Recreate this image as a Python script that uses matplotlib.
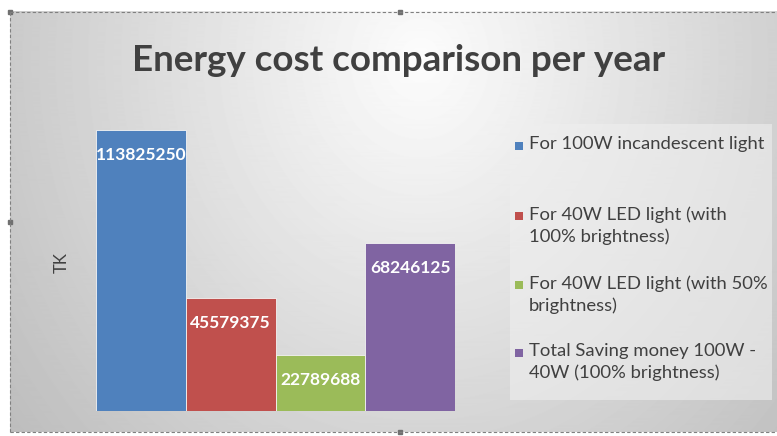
import numpy as np
import matplotlib.pyplot as plt
from matplotlib.patches import Rectangle

# Values
series = ['For 100W incandescent light',
          'For 40W LED light (with\n100% brightness)',
          'For 40W LED light (with 50%\nbrightness)',
          'Total Saving money 100W -\n40W (100% brightness)']
values = [113825250, 45579375, 22789688, 68246125]
colors = ['#4f81bd', '#c0504d', '#9bbb59', '#8064a2']

W, H = 777, 436
fig = plt.figure(figsize=(W / 100, H / 100), dpi=100)
plt.rcParams['font.family'] = ['Lato', 'DejaVu Sans']

# grey radial background inside the dashed chart frame
bg = fig.add_axes([0, 0, 1, 1], zorder=-2)
yy, xx = np.mgrid[0:H, 0:W]
r = np.sqrt(((xx - 420) / 420) ** 2 + ((yy - 60) / 480) ** 2)
shade = np.clip(0.99 - 0.2 * r, 0.7, 1)
shade[:12, :] = 1
shade[:, :10] = 1
shade[432:, :] = 1
bg.imshow(shade, cmap='gray', vmin=0, vmax=1, extent=[0, W, H, 0], aspect='auto')
bg.plot([10, W], [12, 12], ls=(0, (3, 2)), color='#808080', lw=0.8)
bg.plot([10, W], [432, 432], ls=(0, (3, 2)), color='#808080', lw=0.8)
bg.plot([10, 10], [12, 432], ls=(0, (3, 2)), color='#808080', lw=0.8)
for hx, hy in [(400, 12), (10, 222), (400, 432), (10, 12)]:
    bg.add_patch(Rectangle((hx - 2, hy - 2), 4, 4, color='#707070'))
# legend panel
bg.add_patch(Rectangle((510, 124), 262, 276, color='#efefef', alpha=0.6, lw=0))
bg.set_xlim(0, W)
bg.set_ylim(H, 0)
bg.axis('off')

# bars
ax = fig.add_axes([96 / W, (H - 411) / H, 359 / W, 291 / H])
ax.patch.set_alpha(0)
x = np.arange(len(values))
bars = ax.bar(x, values, width=1.0, color=colors, edgecolor='#f4f4f4', linewidth=0.6)
ax.set_xlim(-0.5, len(values) - 0.5)
ax.set_ylim(0, max(values) * 291 / 281)
for b, v in zip(bars, values):
    ax.annotate(str(v), (b.get_x() + b.get_width() / 2, v), xytext=(0, -25),
                textcoords='offset pixels', ha='center', va='center',
                color='white', fontsize=12.5, fontweight='bold')
for s in ax.spines.values():
    s.set_visible(False)
ax.set_xticks([])
ax.set_yticks([])

fig.text(399 / W, 1 - 60 / H, 'Energy cost comparison per year', ha='center', va='center',
         fontsize=26.5, fontweight='bold', color='#404040')
fig.text(62 / W, 1 - 263 / H, 'TK', rotation=90, ha='center', va='center',
         fontsize=12, color='#404040')

# legend entries, handle aligned to the first text line
first_lines = [146, 216, 285, 353]
for lab, col, y0 in zip(series, colors, first_lines):
    bg.add_patch(Rectangle((515, y0 - 4), 8, 8, color=col, lw=0))
    bg.text(529, y0 - 10, lab, ha='left', va='top', fontsize=13.3, color='#404040',
            linespacing=1.4)

fig.savefig('out.png', dpi=100)
